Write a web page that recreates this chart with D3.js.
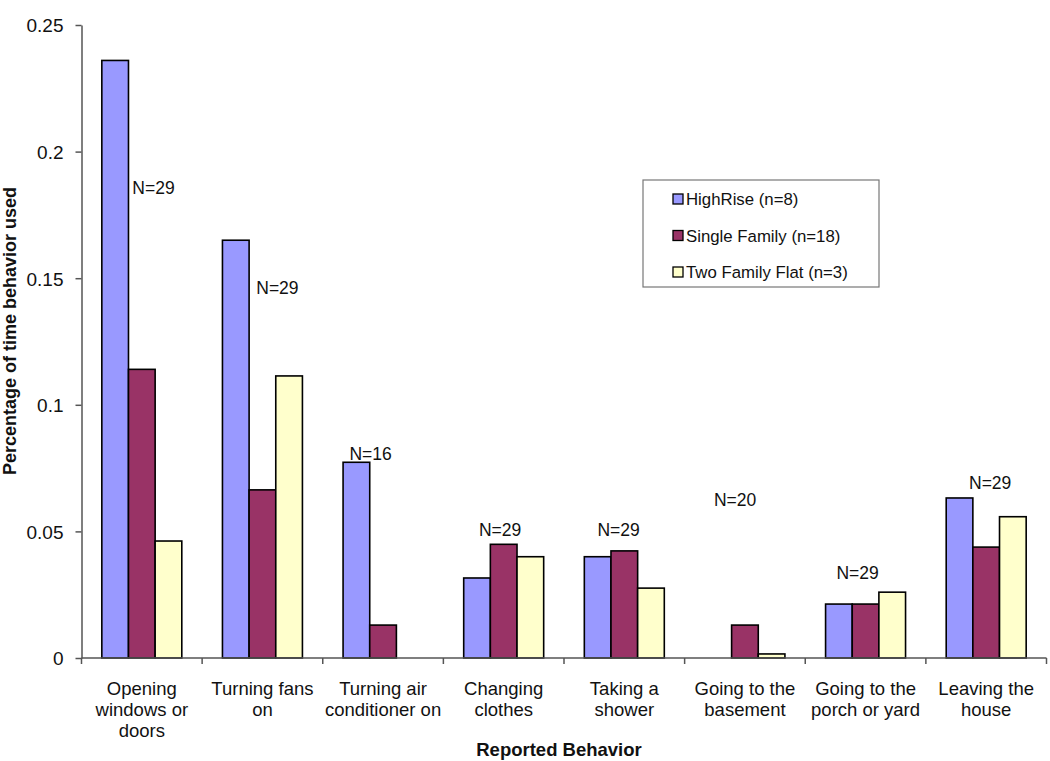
<!DOCTYPE html>
<html><head><meta charset="utf-8">
<script src="https://cdn.jsdelivr.net/npm/d3@7"></script>
<style>body{margin:0;background:#fff}svg{display:block;font-family:"Liberation Sans",Arial,sans-serif}</style>
</head><body><svg id="c" width="1050" height="761"></svg>
<script>
const categories = [["Opening","windows or","doors"],["Turning fans","on"],["Turning air","conditioner on"],["Changing","clothes"],["Taking a","shower"],["Going to the","basement"],["Going to the","porch or yard"],["Leaving the","house"]];
const seriesNames = ["HighRise (n=8)","Single Family (n=18)","Two Family Flat (n=3)"];
const highRise     = [0.236,0.165,0.0773,0.0316,0.040,0,0.0213,0.0632];
const singleFamily = [0.114,0.0664,0.013,0.0449,0.0423,0.013,0.0213,0.0438];
const twoFamily    = [0.0462,0.1114,0,0.040,0.0276,0.0016,0.026,0.0558];
const nLabels = ["N=29","N=29","N=16","N=29","N=29","N=20","N=29","N=29"];
const nLabelLevel = [0.1833,0.1438,0.0782,0.0482,0.0482,0.060,0.0312,0.0667];
const yTicks = [0,0.05,0.1,0.15,0.2,0.25];
const colors = ["#9999FF","#993366","#FFFFCC"];

// annotation horizontal nudges (px from category centre)
const nLabelNudge = [11.7,15,-12.5,-3.6,-5.7,-9.8,-8,4];

const svg = d3.select("#c");
const x0 = 81.5, x1 = 1046.5, yTop = 25, yBot = 658;
const x = d3.scaleBand().domain(d3.range(categories.length)).range([x0,x1]).paddingInner(0.337).paddingOuter(0.1685);
const xs = d3.scaleBand().domain(d3.range(3)).range([0,x.bandwidth()]);
const y = d3.scaleLinear().domain([0,0.25]).range([yBot,yTop]);
const series = [highRise,singleFamily,twoFamily];

// bars
series.forEach((s,si)=>{
  const pts = s.map((v,i)=>({v,i})).filter(d=>d.v>0);
  svg.append("g").selectAll("rect").data(pts).join("rect")
    .attr("x",d=>x(d.i)+xs(si))
    .attr("y",d=>y(d.v))
    .attr("width",xs.bandwidth())
    .attr("height",d=>yBot-y(d.v))
    .attr("fill",colors[si]).attr("stroke","#000").attr("stroke-width",1.6);
});

// y axis
const yAxis = svg.append("g").attr("transform",`translate(${x0},0)`)
  .call(d3.axisLeft(y).tickValues(yTicks).tickSize(6).tickSizeOuter(0).tickFormat(d=>d===0?"0":String(d)));
yAxis.select(".domain").attr("stroke","#555").attr("stroke-width",1.5);
yAxis.selectAll(".tick line").attr("stroke","#555").attr("stroke-width",1.5);
yAxis.selectAll(".tick text").attr("font-size",19).attr("fill","#111").attr("x",-18).attr("dy","0.36em").attr("font-family","Liberation Sans, Arial, sans-serif");

// x axis line and ticks at category boundaries
const step = x.step();
const bounds = d3.range(categories.length+1).map(i=>x0+i*step);
svg.append("line").attr("x1",x0).attr("x2",x1).attr("y1",yBot).attr("y2",yBot).attr("stroke","#555").attr("stroke-width",1.5);
svg.append("g").selectAll("line").data(bounds).join("line")
  .attr("x1",d=>d).attr("x2",d=>d).attr("y1",yBot).attr("y2",yBot+6)
  .attr("stroke","#555").attr("stroke-width",1.5);

// category labels
const cl = svg.append("g").selectAll("text").data(categories).join("text")
  .attr("text-anchor","middle").attr("font-size",18.5).attr("fill","#111")
  .attr("transform",(d,i)=>`translate(${x(i)+x.bandwidth()/2},694.5)`);
cl.selectAll("tspan").data(d=>d).join("tspan").attr("x",0).attr("dy",(d,j)=>j===0?0:21).text(d=>d);

// N labels
svg.append("g").selectAll("text").data(nLabels).join("text")
  .attr("x",(d,i)=>x(i)+x.bandwidth()/2+nLabelNudge[i])
  .attr("y",(d,i)=>y(nLabelLevel[i]))
  .attr("text-anchor","middle")
  .attr("font-size",17.5).attr("fill","#111").text(d=>d);

// axis titles
svg.append("text").attr("x",(x0+x1)/2-5).attr("y",756).attr("text-anchor","middle")
  .attr("font-size",18.5).attr("font-weight","bold").attr("fill","#111").text("Reported Behavior");
svg.append("text").attr("transform","translate(16,331) rotate(-90)").attr("text-anchor","middle")
  .attr("font-size",18).attr("font-weight","bold").attr("fill","#111").text("Percentage of time behavior used");

// legend
const lg = svg.append("g").attr("transform","translate(643,180)");
lg.append("rect").attr("width",236).attr("height",107).attr("fill","#fff").attr("stroke","#777").attr("stroke-width",1.2);
const li = lg.selectAll("g").data(seriesNames).join("g").attr("transform",(d,i)=>`translate(0,${19+i*36.5})`);
li.append("rect").attr("x",30).attr("y",-5).attr("width",10).attr("height",10).attr("fill",(d,i)=>colors[i]).attr("stroke","#000").attr("stroke-width",1.3);
li.append("text").attr("x",43).attr("y",6).attr("font-size",16.8).attr("fill","#111").text(d=>d);
</script></body></html>
